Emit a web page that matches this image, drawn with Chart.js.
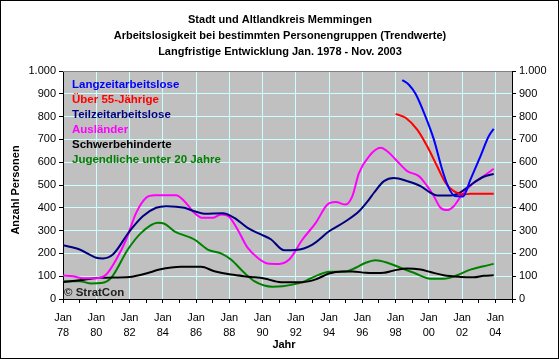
<!DOCTYPE html>
<html>
<head>
<meta charset="utf-8">
<script src="https://cdn.jsdelivr.net/npm/chart.js@4.4.0/dist/chart.umd.min.js"></script>
<style>
  html, body { margin: 0; padding: 0; background: #fff; }
  canvas { display: block; }
</style>
</head>
<body>
<canvas id="chart" width="559" height="359"></canvas>
<script>
const titleLines = [
    'Stadt und Altlandkreis Memmingen',
    'Arbeitslosigkeit bei bestimmten Personengruppen (Trendwerte)',
    'Langfristige Entwicklung Jan. 1978 - Nov. 2003'
];
const seriesLabels = ['Langzeitarbeitslose', 'Über 55-Jährige', 'Teilzeitarbeitslose', 'Ausländer', 'Schwerbehinderte', 'Jugendliche unter 20 Jahre'];
const seriesColors = ['#0000ff', '#ff0000', '#000080', '#ff00ff', '#000000', '#008000'];

// x = year (decimal), y = persons
const langzeitX = [1998.4, 1998.8, 1999.2, 1999.8, 2000.3, 2000.8, 2001.15, 2001.55, 2002.05, 2002.5, 2003.1, 2003.6, 2003.9];
const langzeitY = [960, 940, 900, 800, 700, 568, 495, 452, 450, 524, 626, 714, 746];

const ueber55X = [1998.0, 1998.6, 1999.3, 1999.9, 2000.5, 2001.0, 2001.5, 2002.1, 2002.5, 2003.9];
const ueber55Y = [812, 795, 743, 670, 582, 510, 473, 458, 462, 462];

const teilzeitX = [1978, 1979, 1980, 1980.4, 1981, 1982, 1982.8, 1983.6, 1984.2, 1985.3, 1985.9, 1986.5, 1987.6, 1988.3, 1989.1, 1989.9, 1990.5, 1991.3, 1992.0, 1993.0, 1994.0, 1995.0, 1995.8, 1996.4, 1996.7, 1997.3, 1997.9, 1998.7, 1999.5, 2000.1, 2000.5, 2001.3, 2001.9, 2002.7, 2003.3, 2003.9];
const teilzeitY = [236, 217, 181, 178, 195, 297, 363, 400, 407, 400, 385, 374, 376, 356, 312, 283, 262, 214, 215, 239, 297, 341, 385, 436, 466, 517, 531, 517, 495, 466, 454, 454, 468, 510, 536, 548];

const auslaenderX = [1978, 1978.6, 1979.2, 1980, 1980.6, 1981.2, 1981.8, 1982.4, 1983, 1983.5, 1984.8, 1985.3, 1985.9, 1986.4, 1987.0, 1987.5, 1988.0, 1988.5, 1989.1, 1989.7, 1990.3, 1991.0, 1991.6, 1992.4, 1993.2, 1993.9, 1994.4, 1995.0, 1995.4, 1995.8, 1996.4, 1997.1, 1997.5, 1998.0, 1998.7, 1999.4, 1999.9, 2000.3, 2000.7, 2001.1, 2001.5, 2002.0, 2002.7, 2003.3, 2003.9];
const auslaenderY = [103, 100, 91, 91, 107, 173, 261, 378, 444, 455, 455, 429, 378, 356, 356, 371, 360, 305, 225, 181, 156, 154, 173, 261, 334, 414, 425, 414, 451, 553, 626, 663, 648, 612, 561, 539, 495, 451, 400, 390, 407, 458, 510, 539, 571];

const schwerX = [1978, 1979, 1980.2, 1982, 1983, 1983.8, 1985.1, 1986.3, 1987.1, 1988.1, 1989.3, 1990.1, 1991.1, 1992.4, 1993.2, 1994, 1994.8, 1995.4, 1996.2, 1996.8, 1997.3, 1997.9, 1998.7, 1999.5, 2000.1, 2000.9, 2001.9, 2002.7, 2003.3, 2003.9];
const schwerY = [74, 82, 93, 97, 112, 129, 141, 141, 122, 107, 97, 90, 74, 74, 86, 112, 121, 121, 115, 114, 115, 125, 134, 129, 118, 104, 97, 95, 102, 104];

const jugendX = [1978, 1979, 1979.7, 1980.3, 1980.9, 1981.9, 1982.7, 1983.7, 1984.1, 1984.7, 1985.9, 1986.7, 1987.5, 1988.1, 1988.9, 1989.5, 1990.1, 1990.6, 1991.2, 1992.4, 1993.4, 1994, 1995, 1995.6, 1996.2, 1996.8, 1997.5, 1998.3, 1999.1, 2000.1, 2000.9, 2001.7, 2002.5, 2003.3, 2003.9];
const jugendY = [78, 78, 68, 70, 93, 217, 290, 334, 330, 297, 261, 217, 200, 173, 115, 78, 59, 54, 56, 74, 107, 119, 121, 137, 159, 170, 159, 137, 115, 89, 89, 104, 129, 144, 154];

const seriesX = [langzeitX, ueber55X, teilzeitX, auslaenderX, schwerX, jugendX];
const seriesY = [langzeitY, ueber55Y, teilzeitY, auslaenderY, schwerY, jugendY];

const gridColor = '#ccffff';
const plotColor = '#c0c0c0';

Chart.defaults.font.family = '"Liberation Sans", Arial, sans-serif';
Chart.defaults.font.size = 11;
Chart.defaults.color = '#000';

const decor = {
    id: 'decor',
    beforeDraw(chart) {
        const ctx = chart.ctx;
        const a = chart.chartArea;
        ctx.save();
        ctx.fillStyle = '#fff';
        ctx.fillRect(0, 0, chart.width, chart.height);
        ctx.fillStyle = plotColor;
        ctx.fillRect(a.left, a.top, a.right - a.left, a.bottom - a.top);
        ctx.restore();
    },
    afterDraw(chart) {
        const ctx = chart.ctx;
        const a = chart.chartArea;
        ctx.save();
        // outer frame
        ctx.strokeStyle = '#000';
        ctx.lineWidth = 1;
        ctx.strokeRect(0.5, 0.5, chart.width - 1, chart.height - 1);
        // top edge of plot
        ctx.strokeStyle = '#808080';
        ctx.beginPath();
        ctx.moveTo(a.left, a.top + 0.5);
        ctx.lineTo(a.right, a.top + 0.5);
        ctx.stroke();

        ctx.textAlign = 'center';
        ctx.textBaseline = 'middle';
        ctx.fillStyle = '#000';
        ctx.font = 'bold 11px "Liberation Sans", Arial, sans-serif';
        titleLines.forEach((t, i) => ctx.fillText(t, 280, 20 + i * 16));

        ctx.fillText('Jahr', 284, 345);

        ctx.save();
        ctx.translate(16, 190);
        ctx.rotate(-Math.PI / 2);
        ctx.fillText('Anzahl Personen', 0, 0);
        ctx.restore();

        // legend inside the plot
        ctx.textAlign = 'left';
        ctx.font = 'bold 11.5px "Liberation Sans", Arial, sans-serif';
        chart.data.datasets.forEach((ds, i) => {
            ctx.fillStyle = ds.borderColor;
            ctx.fillText(ds.label, a.left + 9, 85 + i * 15);
        });

        ctx.fillStyle = '#222';
        ctx.fillText('© StratCon', a.left + 1, 293);
        ctx.restore();
    }
};

const datasets = seriesLabels.map((label, i) => ({
    label: label,
    data: seriesX[i].map((x, j) => ({ x: x, y: seriesY[i][j] })),
    borderColor: seriesColors[i],
    borderWidth: 2,
    pointRadius: 0,
    fill: false,
    cubicInterpolationMode: 'monotone'
}));

const yTicks = {
    stepSize: 50,
    padding: 3,
    font: { size: 11 },
    callback: v => v % 100 === 0 ? (v === 1000 ? '1.000' : String(v)) : ''
};

new Chart(document.getElementById('chart'), {
    type: 'line',
    data: { datasets: datasets },
    options: {
        responsive: false,
        animation: false,
        layout: { padding: { top: 71, left: 0, right: 0, bottom: 0 } },
        plugins: {
            legend: { display: false },
            title: { display: false },
            tooltip: { enabled: false }
        },
        scales: {
            x: {
                type: 'linear',
                min: 1978,
                max: 2005,
                afterFit: s => { s.height = 60; },
                border: { color: '#000' },
                grid: {
                    color: c => (c.tick && c.tick.value % 2 === 0 && c.tick.value > 1978 && c.tick.value < 2005) ? gridColor : 'transparent',
                    tickColor: '#000',
                    tickLength: 4
                },
                ticks: {
                    stepSize: 1,
                    autoSkip: false,
                    maxRotation: 0,
                    padding: 8,
                    font: { size: 11, lineHeight: 1.35 },
                    callback: v => (v % 2 === 0 && v <= 2004) ? ['Jan', String(v % 100).padStart(2, '0')] : ''
                }
            },
            y: {
                position: 'left',
                min: 0,
                max: 1000,
                afterFit: s => { s.width = 63; },
                border: { color: '#000' },
                grid: {
                    color: c => (c.tick && c.tick.value % 100 === 0 && c.tick.value > 0 && c.tick.value < 1000) ? gridColor : 'transparent',
                    tickColor: '#000',
                    tickLength: 4
                },
                ticks: yTicks
            },
            y2: {
                position: 'right',
                min: 0,
                max: 1000,
                afterFit: s => { s.width = 47; },
                border: { color: '#000' },
                grid: { drawOnChartArea: false, tickColor: '#000', tickLength: 4 },
                ticks: yTicks
            }
        }
    },
    plugins: [decor]
});
</script>
</body>
</html>
